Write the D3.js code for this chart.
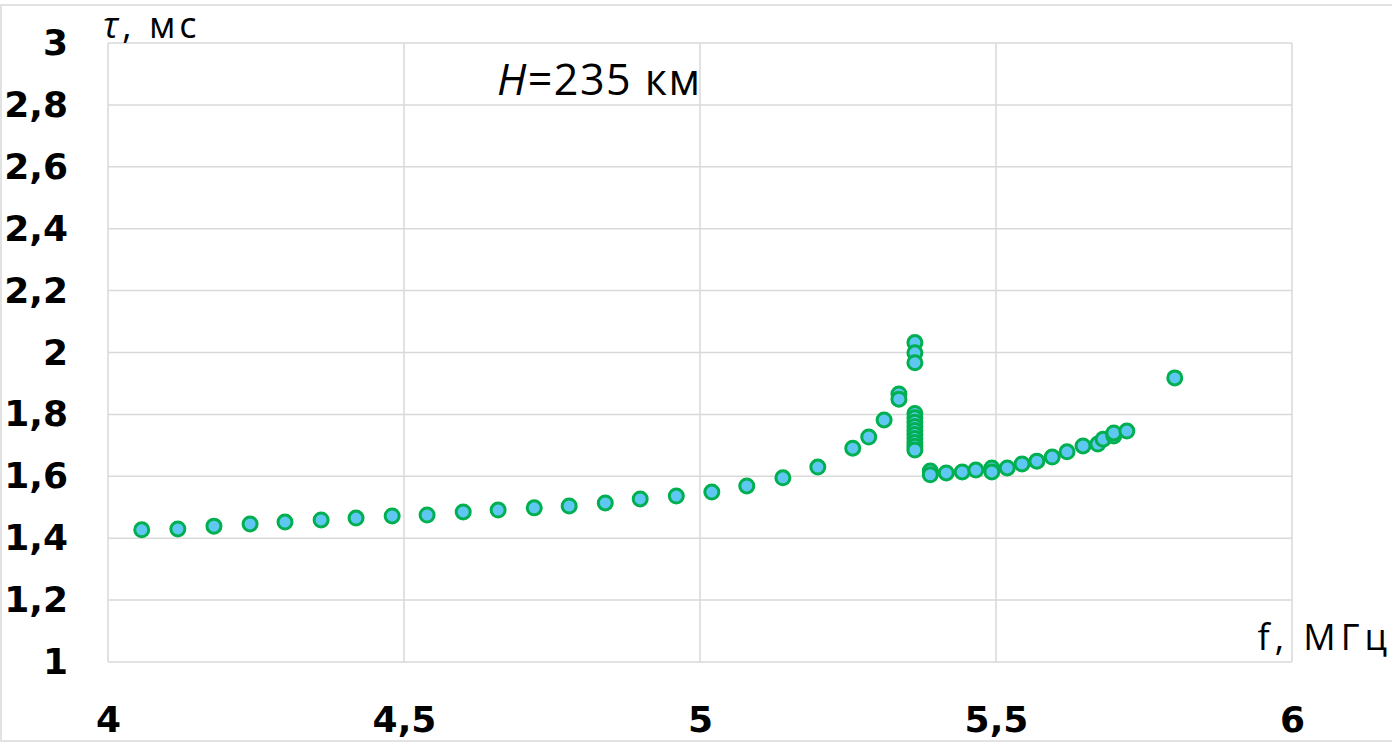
<!DOCTYPE html>
<html>
<head>
<meta charset="utf-8">
<script src="https://cdn.jsdelivr.net/npm/d3@7"></script>
<style>
  body { margin: 0; background: #fff; }
  svg { display: block; }
</style>
</head>
<body>
<div id="chart"></div>
<script>
/* data: frequency (MHz) and delay (ms) */
var freq = [4.057, 4.118, 4.179, 4.240, 4.299, 4.360, 4.419, 4.480, 4.539, 4.600,
            4.659, 4.720, 4.779, 4.840, 4.899, 4.960, 5.020, 5.079, 5.140, 5.199,
            5.258, 5.285, 5.311, 5.336, 5.336,
            5.363, 5.363, 5.363,
            5.363, 5.363, 5.363, 5.363, 5.363, 5.363, 5.363, 5.363, 5.363, 5.363,
            5.389, 5.389, 5.416, 5.443, 5.466, 5.493, 5.493, 5.519, 5.544, 5.569,
            5.595, 5.620, 5.647, 5.672, 5.681, 5.699, 5.699, 5.721, 5.802];
var tau  = [1.427, 1.430, 1.439, 1.446, 1.452, 1.459, 1.465, 1.472, 1.475, 1.485,
            1.491, 1.498, 1.504, 1.514, 1.527, 1.536, 1.549, 1.569, 1.595, 1.630,
            1.691, 1.727, 1.782, 1.866, 1.849,
            2.032, 1.999, 1.967,
            1.803, 1.789, 1.775, 1.761, 1.748, 1.735, 1.722, 1.709, 1.697, 1.685,
            1.617, 1.605, 1.611, 1.614, 1.620, 1.627, 1.614, 1.627, 1.640, 1.649,
            1.662, 1.679, 1.698, 1.704, 1.720, 1.730, 1.740, 1.746, 1.918];
var xTicks = [4, 4.5, 5, 5.5, 6];
var yTicks = [1, 1.2, 1.4, 1.6, 1.8, 2, 2.2, 2.4, 2.6, 2.8, 3];
var xLabel = "f, МГц";
var note = "235 км";

var data = freq.map(function(f, i) { return { f: f, t: tau[i] }; });

var W = 1392, H = 743;
var margin = { top: 43, right: 100, bottom: 81, left: 108 };
var width = W - margin.left - margin.right,
    height = H - margin.top - margin.bottom;

var fmt = function(d) { return String(d).replace(".", ","); };

var svg = d3.select("#chart")
            .append("svg")
            .attr("width", W)
            .attr("height", H);

/* outer frame */
svg.append("rect")
    .attr("x", 1).attr("y", 5)
    .attr("width", W + 10).attr("height", 736)
    .attr("fill", "none")
    .attr("stroke", "#d9d9d9")
    .attr("stroke-width", 1.5);

var chart = svg.append("g")
            .attr("transform", "translate(" + margin.left + "," + margin.top + ")");

var x = d3.scaleLinear().domain([4, 6]).range([0, 1184]);
var y = d3.scaleLinear().domain([1, 3]).range([height, 0]);

/* grid lines */
chart.append("g")
    .selectAll("line").data(yTicks)
    .enter().append("line")
    .attr("x1", 0).attr("x2", x(6))
    .attr("y1", function(d) { return y(d); })
    .attr("y2", function(d) { return y(d); })
    .attr("stroke", "#d9d9d9")
    .attr("stroke-width", 1.5);

chart.append("g")
    .selectAll("line").data(xTicks)
    .enter().append("line")
    .attr("y1", 0).attr("y2", height)
    .attr("x1", function(d) { return x(d); })
    .attr("x2", function(d) { return x(d); })
    .attr("stroke", "#d9d9d9")
    .attr("stroke-width", 1.5);

/* x axis */
var xAxis = d3.axisBottom(x).tickValues(xTicks).tickFormat(fmt).tickSize(0).tickPadding(44);
chart.append("g")
    .attr("transform", "translate(0," + height + ")")
    .call(xAxis)
    .call(function(g) { g.select(".domain").remove(); })
    .selectAll("text")
    .attr("font-family", "DejaVu Sans")
    .attr("font-weight", "bold")
    .attr("font-size", 36)
    .attr("fill", "#000");

/* y axis */
var yAxis = d3.axisLeft(y).tickValues(yTicks).tickFormat(fmt).tickSize(0).tickPadding(40);
chart.append("g")
    .call(yAxis)
    .call(function(g) { g.select(".domain").remove(); })
    .selectAll("text")
    .attr("font-family", "DejaVu Sans")
    .attr("font-weight", "bold")
    .attr("font-size", 36)
    .attr("fill", "#000");

/* points */
chart.append("g")
    .selectAll("circle").data(data)
    .enter().append("circle")
    .attr("cx", function(d) { return x(d.f); })
    .attr("cy", function(d) { return y(d.t); })
    .attr("r", 7)
    .attr("fill", "#5ec8f2")
    .attr("stroke", "#00b050")
    .attr("stroke-width", 3);

/* axis titles */
var yTitle = svg.append("text")
    .attr("x", 103).attr("y", 38)
    .attr("font-family", "Open Sans")
    .attr("font-size", 36)
    .attr("letter-spacing", 4)
    .attr("fill", "#000");
yTitle.append("tspan").attr("font-style", "italic").text("τ");
yTitle.append("tspan").text(", мс");

svg.append("text")
    .attr("x", 1392).attr("y", 650)
    .attr("text-anchor", "end")
    .attr("font-family", "Open Sans")
    .attr("font-size", 36)
    .attr("letter-spacing", 5)
    .attr("fill", "#000")
    .text(xLabel);

/* altitude note */
var t = svg.append("text")
    .attr("x", 497).attr("y", 95)
    .attr("font-family", "Open Sans")
    .attr("font-size", 43)
    .attr("letter-spacing", 1.5)
    .attr("fill", "#000");
t.append("tspan").attr("font-style", "italic").text("H");
t.append("tspan").text("=" + note);
</script>
</body>
</html>
